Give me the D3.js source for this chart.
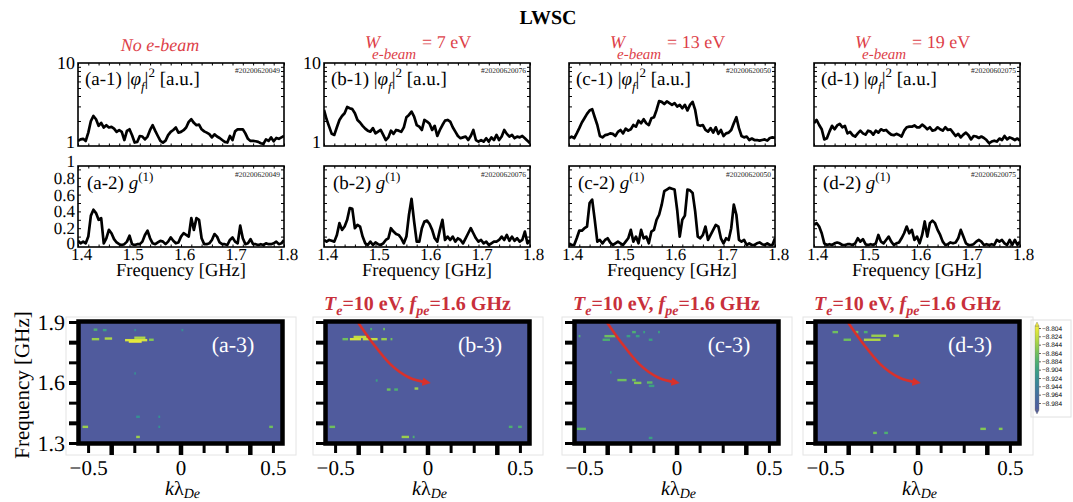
<!DOCTYPE html>
<html><head><meta charset="utf-8">
<script src="https://cdn.jsdelivr.net/npm/d3@7"></script>
<style>
body{margin:0;background:#fff}
svg{display:block;font-family:"Liberation Serif","Times New Roman",serif;text-rendering:geometricPrecision}
</style>
</head><body>
<svg id="c" width="1073" height="502"></svg>
<script>
// ---------------- DATA ----------------
const panelIds = ["a", "b", "c", "d"];
const beamEnergies = [null, 7, 13, 19];
const shotNumbersRow1 = ["#20200620049", "#20200620076", "#20200620050", "#20200602075"];
const shotNumbersRow2 = ["#20200620049", "#20200620076", "#20200620050", "#20200620075"];
const freqs = d3.range(81).map(i => 1.4 + i * 0.005);   // sampling grid 1.4..1.8 GHz
const freqTicks = [1.4, 1.5, 1.6, 1.7, 1.8];
const phiTicks = [1, 10];
const gTicks = [0, 0.2, 0.4, 0.6, 0.8, 1];
const kTicks = [-0.5, 0, 0.5];
const kTicksAll = [-0.5, -0.375, -0.25, -0.125, 0, 0.125, 0.25, 0.375, 0.5];
const fTicks3 = [1.3, 1.6, 1.9];
const fTicksAll = [1.3, 1.4, 1.5, 1.6, 1.7, 1.8, 1.9];
const colorLevels = [-8.804, -8.824, -8.844, -8.864, -8.884, -8.904, -8.924, -8.944, -8.964, -8.984];

const phiA = [1.15,1.2,1.22,1.15,1.45,2.0,2.3,2.1,1.75,1.9, 1.67,1.78,1.67,1.7,1.62,1.48,1.55,1.48,1.18,1.52,
  1.59,1.35,1.1,1.12,1.32,1.3,1.2,1.3,1.56,1.78, 1.52,1.32,1.15,1.1,1.16,1.35,1.48,1.56,1.67,1.45,
  1.48,1.55,1.67,1.95,2.1,1.9,1.78,1.81,1.59,1.5, 1.45,1.39,1.27,1.38,1.3,1.25,1.18,1.12,1.1,1.32,
  1.18,1.5,1.59,1.59,1.59,1.42,1.22,1.15,1.15,1.14, 1.12,1.08,1.06,1.2,1.15,1.27,1.14,1.25,1.22,1.27, 1.32];
const phiB = [2.72,2.1,1.71,1.4,1.36,1.68,2.06,2.3,2.48,2.95, 2.85,2.78,2.48,2.06,1.92,1.75,1.62,1.53,1.49,1.64,
  1.42,1.49,1.56,1.36,1.18,1.27,1.53,1.4,1.56,1.53, 1.48,1.68,2.22,2.37,2.6,2.26,1.79,1.71,1.56,2.06,
  1.97,1.85,1.56,1.75,1.32,1.56,1.79,2.02,2.06,1.97, 1.68,1.49,1.32,1.24,1.27,1.3,1.18,1.32,1.56,1.18,
  1.13,1.18,1.13,1.24,1.13,1.27,1.18,1.36,1.18,1.3, 1.56,1.4,1.3,1.36,1.24,1.3,1.27,1.32,1.24,1.16, 1.08];
const phiC = [1.24,1.3,1.24,1.42,1.64,1.92,2.16,2.44,2.68,2.78, 2.22,1.79,1.32,1.27,1.35,1.37,1.42,1.4,1.32,1.48,
  1.56,1.42,1.62,1.53,1.59,1.79,1.71,2.02,1.88,2.1, 1.88,1.79,2.16,2.22,2.72,3.47,3.4,3.2,3.44,3.28,
  3.13,3.28,2.99,3.13,2.85,3.13,2.68,3.13,3.4,2.72, 1.79,1.75,1.79,1.56,1.49,1.64,1.45,1.68,1.4,1.56,
  1.32,1.42,1.45,1.56,1.88,2.22,1.64,1.32,1.27,1.3, 1.18,1.23,1.18,1.18,1.16,1.18,1.2,1.16,1.25,1.27, 1.25];
const phiD = [1.88,2.06,1.79,1.59,1.2,1.24,1.49,1.75,1.59,1.77, 1.85,1.68,1.75,1.42,1.48,1.35,1.3,1.42,1.53,1.42,
  1.37,1.53,1.49,1.37,1.53,1.45,1.59,1.53,1.56,1.45, 1.37,1.35,1.4,1.36,1.3,1.53,1.68,1.71,1.71,1.77,
  1.68,1.68,1.81,1.71,1.59,1.68,1.53,1.56,1.68,1.59, 1.53,1.68,1.56,1.59,1.45,1.32,1.4,1.27,1.37,1.45,
  1.35,1.2,1.32,1.3,1.25,1.3,1.25,1.18,1.08,1.13, 1.16,1.13,1.23,1.18,1.32,1.2,1.27,1.23,1.18,1.23, 1.16];

const gA = [0.05,0.02,0.04,0.02,0.1,0.35,0.42,0.38,0.3,0.32, 0.02,0.08,0.18,0.14,0.07,0.03,0.01,0,0.01,0.04,
  0.11,0.01,0,0.01,0.01,0.04,0.12,0.17,0.08,0.02, 0.01,0.03,0.05,0.04,0.01,0.04,0.09,0.05,0.02,0.03,
  0.1,0.14,0.12,0.1,0.32,0.18,0.32,0.3,0.08,0.01, 0.01,0.02,0.06,0.13,0.1,0.03,0.01,0.01,0,0.06,
  0.09,0.04,0.02,0.23,0.08,0.01,0.02,0.07,0.01,0.01, 0,0.01,0,0.02,0.01,0.01,0.02,0.04,0.01,0.02, 0.06];
const gB = [0.06,0.04,0.06,0.05,0.04,0.12,0.26,0.18,0.22,0.3, 0.44,0.43,0.2,0.24,0.22,0.1,0.02,0,0.04,0,
  0.03,0.01,0,0.02,0.06,0.08,0.2,0.16,0.13,0.12, 0.08,0.02,0.1,0.36,0.55,0.28,0.04,0.04,0.2,0.28,
  0.29,0.25,0.18,0.08,0.04,0.18,0.3,0.06,0.1,0.06, 0.1,0.04,0.08,0.06,0.02,0.08,0.14,0.2,0.14,0.08,
  0.04,0.06,0.02,0.04,0,0.02,0.04,0.04,0.06,0.1, 0.06,0.12,0.05,0.1,0.05,0.08,0.04,0.06,0.16,0.02, 0.06];
const gC = [0.02,0,0,0.08,0.17,0.17,0.2,0.22,0.5,0.54, 0.3,0.04,0.06,0.02,0.06,0.08,0.03,0,0.02,0.04,
  0.02,0,0.04,0.08,0.18,0.04,0.1,0.02,0.18,0.08, 0.1,0.02,0.16,0.18,0.3,0.36,0.48,0.64,0.66,0.68,
  0.67,0.66,0.42,0.1,0.3,0.35,0.66,0.65,0.62,0.4, 0.1,0.08,0.12,0.22,0.06,0.12,0.18,0.24,0.22,0.08,
  0.02,0.08,0.06,0.2,0.48,0.36,0.06,0.04,0.06,0, 0.02,0,0,0.02,0.03,0.01,0,0.02,0,0, 0.08];
const gD = [0.24,0.26,0.22,0.14,0.02,0,0.01,0,0.02,0.03, 0.02,0,0,0.01,0.01,0,0.02,0.08,0.04,0.07,
  0.01,0,0.01,0,0.02,0.12,0.04,0.02,0.06,0.1, 0.04,0,0.02,0.03,0.08,0.14,0.22,0.14,0.18,0.06,
  0.1,0.02,0.12,0.28,0.1,0.26,0.29,0.26,0.18,0.12, 0.04,0,0.01,0.03,0.02,0.03,0.08,0.18,0.1,0.02,
  0,0,0.01,0.04,0.06,0.04,0,0.01,0,0.01, 0,0.06,0.04,0.06,0.02,0,0.06,0,0.06,0, 0.04];

// speckles in the k–f maps: [k start, k end, frequency GHz, log level]
const speckA = [[-0.48,-0.44,1.815,-8.84],[-0.41,-0.37,1.818,-8.83],[-0.30,-0.18,1.81,-8.81],[-0.28,-0.21,1.803,-8.80],
  [-0.25,-0.19,1.822,-8.83],[-0.17,-0.145,1.812,-8.85],[-0.47,-0.45,1.862,-8.88],[-0.42,-0.40,1.86,-8.90],
  [-0.25,-0.24,1.86,-8.92],[0.005,0.015,1.86,-8.92],[-0.53,-0.50,1.38,-8.84],[0.48,0.50,1.38,-8.86],
  [-0.24,-0.22,1.33,-8.84],[-0.25,-0.245,1.645,-8.92],[-0.24,-0.22,1.43,-8.92],[-0.12,-0.11,1.43,-8.92],[-0.12,-0.11,1.38,-8.92]];
const speckB = [[-0.46,-0.43,1.815,-8.86],[-0.42,-0.36,1.815,-8.81],[-0.35,-0.27,1.815,-8.82],[-0.25,-0.22,1.815,-8.84],
  [-0.20,-0.19,1.815,-8.86],[-0.40,-0.33,1.826,-8.82],[-0.31,-0.30,1.865,-8.88],[-0.24,-0.23,1.865,-8.86],
  [-0.22,-0.20,1.565,-8.86],[-0.18,-0.16,1.565,-8.88],[-0.07,-0.05,1.57,-8.84],[-0.28,-0.27,1.61,-8.9],
  [-0.53,-0.50,1.38,-8.86],[0.44,0.46,1.38,-8.88],[0.49,0.51,1.38,-8.88],[-0.14,-0.10,1.33,-8.84],[-0.08,-0.07,1.33,-8.88]];
const speckC = [[-0.53,-0.52,1.83,-8.88],[-0.39,-0.33,1.83,-8.86],[-0.27,-0.25,1.83,-8.9],[-0.22,-0.20,1.83,-8.9],
  [-0.24,-0.22,1.85,-8.88],[-0.18,-0.17,1.85,-8.9],[-0.10,-0.09,1.85,-8.9],[-0.40,-0.36,1.812,-8.88],[-0.15,-0.13,1.812,-8.9],
  [-0.32,-0.27,1.612,-8.86],[-0.24,-0.22,1.612,-8.86],[-0.23,-0.19,1.598,-8.85],[-0.16,-0.13,1.60,-8.87],
  [-0.15,-0.12,1.583,-8.9],[-0.54,-0.49,1.37,-8.87],[-0.15,-0.13,1.325,-8.9],[-0.36,-0.355,1.65,-8.92]];
const speckD = [[-0.46,-0.43,1.85,-8.86],[-0.34,-0.32,1.85,-8.86],[-0.29,-0.27,1.85,-8.88],[-0.25,-0.17,1.832,-8.84],
  [-0.13,-0.10,1.832,-8.84],[-0.40,-0.36,1.812,-8.86],[-0.29,-0.20,1.812,-8.83],[0.34,0.37,1.37,-8.85],
  [0.44,0.46,1.37,-8.85],[-0.24,-0.22,1.35,-8.86],[-0.18,-0.16,1.35,-8.88]];

// Bohm-Gross branch: [k lambda_De, f GHz]
const dispersion = [[-0.40, 1.93], [-0.3, 1.80], [-0.2, 1.69], [-0.1, 1.625], [0, 1.6]];

// ---------------- DRAW ----------------
const phiData = [phiA, phiB, phiC, phiD];
const gData = [gA, gB, gC, gD];
const speckData = [speckA, speckB, speckC, speckD];

const svg = d3.select("#c");
const defs = svg.append("defs");
const SERIF = '"Liberation Serif","Times New Roman",serif';
const RED1 = "#dd3f49", RED2 = "#c8303b", CURVE = "#d8312c";

const cDomain = [-8.994, -8.794];
const cmap = d3.scaleSequential(d3.interpolateRgbBasis(["#505b9d","#4470a2","#2f9593","#4bb36c","#aad544","#f3ee3a"])).domain(cDomain);

defs.append("marker").attr("id","arr").attr("viewBox","0 0 10 10").attr("refX",6).attr("refY",5)
  .attr("markerWidth",3.2).attr("markerHeight",3.2).attr("orient","auto")
  .append("path").attr("d","M0,0 L10,5 L0,10 z").attr("fill",CURVE);

svg.append("text").attr("x",548).attr("y",24).attr("text-anchor","middle")
  .attr("font-weight","bold").attr("font-size",20).text("LWSC");

const topX0 = [78, 324, 569, 814];
const PW = 206;
const R1 = {top: 63, bottom: 146};
const R2 = {top: 166, bottom: 247};
const mapX0 = [77, 324, 573, 814];
const MW = 207, MT = 320, MB = 445;

function styleAxis(g, font) {
  g.select(".domain").remove();
  g.attr("font-family", SERIF);
  if (font) g.attr("font-size", font);
  g.selectAll("text").attr("fill", "#000");
  return g;
}

const minorF = d3.range(1.4, 1.8001, 0.02);
const line = (x, y) => d3.line().x((d, i) => x(freqs[i])).y(d => y(d));

panelIds.forEach((id, p) => {
  const x0 = topX0[p];
  const x = d3.scaleLinear().domain([1.4, 1.8]).range([x0, x0 + PW]);

  // subtitle
  if (beamEnergies[p] === null) {
    svg.append("text").attr("x", x0 + 82).attr("y", 51).attr("text-anchor","middle")
      .attr("font-style","italic").attr("font-size",18).attr("fill",RED1).text("No e-beam");
  } else {
    svg.append("text").attr("x", x0 + 41).attr("y", 48).attr("font-style","italic")
      .attr("font-size",18).attr("fill",RED1).text("W");
    svg.append("text").attr("x", x0 + 48).attr("y", 59).attr("font-style","italic")
      .attr("font-size",15).attr("fill",RED1).text("e-beam");
    svg.append("text").attr("x", x0 + 98).attr("y", 48)
      .attr("font-size",18).attr("fill",RED1).text(`= ${beamEnergies[p]} eV`);
  }

  // ---- row 1 : |phi_f|^2 ----
  const y1 = d3.scaleLog().domain([1, 10]).range([R1.bottom, R1.top]);
  defs.append("clipPath").attr("id","c1"+id).append("rect")
    .attr("x",x0).attr("y",R1.top).attr("width",PW).attr("height",R1.bottom-R1.top);
  const g1 = svg.append("g");
  g1.append("g").attr("transform",`translate(0,${R1.bottom})`)
    .call(d3.axisBottom(x).tickValues(minorF).tickSize(-2.5).tickFormat("")).call(styleAxis);
  g1.append("g").attr("transform",`translate(0,${R1.top})`)
    .call(d3.axisTop(x).tickValues(minorF).tickSize(-2.5).tickFormat("")).call(styleAxis);
  const logMinor = [2,3,4,5,6,7,8,9];
  g1.append("g").attr("transform",`translate(${x0},0)`)
    .call(d3.axisLeft(y1).tickValues(logMinor).tickSize(-3).tickFormat("")).call(styleAxis);
  g1.append("g").attr("transform",`translate(${x0+PW},0)`)
    .call(d3.axisRight(y1).tickValues(logMinor).tickSize(-3).tickFormat("")).call(styleAxis);
  if (p < 2) {
    const a = g1.append("g").attr("transform",`translate(${x0-1},0)`)
      .call(d3.axisLeft(y1).tickValues(phiTicks).tickSize(0).tickPadding(2).tickFormat(d3.format("d")))
      .call(g => styleAxis(g, 18));
    a.selectAll("text").attr("dy", d => d === 1 ? "0.1em" : "0.32em");
  }
  g1.append("path").datum(phiData[p]).attr("d", line(x, y1)).attr("fill","none")
    .attr("stroke","#000").attr("stroke-width",2.7).attr("stroke-linejoin","round")
    .attr("clip-path",`url(#c1${id})`);
  g1.append("rect").attr("x",x0).attr("y",R1.top).attr("width",PW).attr("height",R1.bottom-R1.top)
    .attr("fill","none").attr("stroke","#000").attr("stroke-width",1.6);
  const t1 = g1.append("text").attr("x",x0+7).attr("y",R1.top+22).attr("font-size",19);
  t1.append("tspan").text(`(${id}-1) |`);
  t1.append("tspan").attr("font-style","italic").text("φ");
  t1.append("tspan").attr("font-style","italic").attr("font-size",13).attr("dy",6).text("f");
  t1.append("tspan").attr("dy",-6).text("|");
  t1.append("tspan").attr("font-size",13).attr("dy",-8).text("2");
  t1.append("tspan").attr("dy",8).text(" [a.u.]");
  g1.append("text").attr("x",x0+PW-4).attr("y",R1.top+10).attr("text-anchor","end")
    .attr("font-size",7.5).attr("fill","#222").text(shotNumbersRow1[p]);

  // ---- row 2 : g(1) ----
  const y2 = d3.scaleLinear().domain([0, 1]).range([245, 161]);
  defs.append("clipPath").attr("id","c2"+id).append("rect")
    .attr("x",x0).attr("y",R2.top).attr("width",PW).attr("height",R2.bottom-R2.top);
  const g2 = svg.append("g");
  g2.append("g").attr("transform",`translate(0,${R2.bottom})`)
    .call(d3.axisBottom(x).tickValues(minorF).tickSize(-2.5).tickFormat("")).call(styleAxis);
  g2.append("g").attr("transform",`translate(0,${R2.top})`)
    .call(d3.axisTop(x).tickValues(minorF).tickSize(-2.5).tickFormat("")).call(styleAxis);
  const gMinor = [0.1,0.2,0.3,0.4,0.5,0.6,0.7,0.8,0.9];
  g2.append("g").attr("transform",`translate(${x0},0)`)
    .call(d3.axisLeft(y2).tickValues(gMinor).tickSize(-3).tickFormat("")).call(styleAxis);
  g2.append("g").attr("transform",`translate(${x0+PW},0)`)
    .call(d3.axisRight(y2).tickValues(gMinor).tickSize(-3).tickFormat("")).call(styleAxis);
  if (p === 0) {
    const a = g2.append("g").attr("transform",`translate(${x0},0)`)
      .call(d3.axisLeft(y2).tickValues(gTicks).tickSize(0).tickPadding(3).tickFormat(d => d3.format("")(d)))
      .call(g => styleAxis(g, 17));
    a.selectAll("text").attr("dy", d => d === 0 ? "0.2em" : "0.32em");
  }
  g2.append("g").attr("transform",`translate(3,${R2.bottom})`)
    .call(d3.axisBottom(x).tickValues(freqTicks).tickSize(0).tickPadding(1).tickFormat(d3.format(".1f")))
    .call(g => styleAxis(g, 17));
  g2.append("text").attr("x",x0+PW/2).attr("y",276).attr("text-anchor","middle")
    .attr("font-size",18.5).text("Frequency [GHz]");
  g2.append("path").datum(gData[p]).attr("d", line(x, y2)).attr("fill","none")
    .attr("stroke","#000").attr("stroke-width",2.7).attr("stroke-linejoin","round")
    .attr("clip-path",`url(#c2${id})`);
  g2.append("rect").attr("x",x0).attr("y",R2.top).attr("width",PW).attr("height",R2.bottom-R2.top)
    .attr("fill","none").attr("stroke","#000").attr("stroke-width",1.6);
  const t2 = g2.append("text").attr("x",x0+9).attr("y",R2.top+23).attr("font-size",19);
  t2.append("tspan").text(`(${id}-2) `);
  t2.append("tspan").attr("font-style","italic").text("g");
  t2.append("tspan").attr("font-size",13).attr("dy",-8).text("(1)");
  g2.append("text").attr("x",x0+PW-4).attr("y",R2.top+11).attr("text-anchor","end")
    .attr("font-size",7.5).attr("fill","#222").text(shotNumbersRow2[p]);

  // ---- row 3 : k-f map ----
  const m0 = mapX0[p];
  const x3 = d3.scaleLinear().domain([-0.56, 0.56]).range([m0, m0 + MW]);
  const y3 = d3.scaleLinear().domain([1.29, 1.91]).range([MB, MT]);
  const g3 = svg.append("g");
  g3.append("rect").attr("x",m0-11).attr("y",317).attr("width",MW+23).attr("height",138)
    .attr("fill","none").attr("stroke","#e4e4e4").attr("stroke-width",1);
  defs.append("clipPath").attr("id","c3"+id).append("rect")
    .attr("x",m0).attr("y",MT).attr("width",MW).attr("height",MB-MT);
  g3.append("rect").attr("x",m0).attr("y",MT).attr("width",MW).attr("height",MB-MT).attr("fill",cmap(cDomain[0]));
  const sp = g3.append("g").attr("clip-path",`url(#c3${id})`);
  sp.selectAll("rect").data(speckData[p]).join("rect")
    .attr("x", d => x3(d[0])).attr("width", d => Math.max(1.6, x3(d[1]) - x3(d[0])))
    .attr("y", d => y3(d[2]) - 1.2).attr("height", 2.4).attr("fill", d => cmap(d[3]));
  const majK = new Set([-0.375, 0, 0.375]);
  const ax = g3.append("g").attr("transform",`translate(0,${MB})`)
    .call(d3.axisBottom(x3).tickValues(kTicksAll).tickSize(8).tickFormat("")).call(styleAxis);
  ax.selectAll(".tick line").attr("stroke-width", d => majK.has(d) ? 4.5 : 3)
    .attr("y2", d => majK.has(d) ? 10 : 8);
  const majF = new Set([1.4, 1.6, 1.8]);
  const ay = g3.append("g").attr("transform",`translate(${m0},0)`)
    .call(d3.axisLeft(y3).tickValues(fTicksAll).tickSize(8).tickFormat("")).call(styleAxis);
  ay.selectAll(".tick line").attr("stroke-width", d => majF.has(d) ? 4 : 3);
  g3.append("g").attr("transform",`translate(0,${MB})`)
    .call(d3.axisBottom(x3).tickValues(kTicks).tickSize(0).tickPadding(15)
      .tickFormat(d => d === 0 ? "0" : d3.format(".1f")(d)))
    .call(g => styleAxis(g, 21));
  if (p === 0) {
    g3.append("g").attr("transform",`translate(${m0},0)`)
      .call(d3.axisLeft(y3).tickValues(fTicks3).tickSize(0).tickPadding(12).tickFormat(d3.format(".1f")))
      .call(g => styleAxis(g, 22));
    g3.append("text").attr("transform",`translate(29,385) rotate(-90)`).attr("text-anchor","middle")
      .attr("font-size",21).text("Frequency [GHz]");
  } else {
    g3.append("path").datum(dispersion)
      .attr("d", d3.line().curve(d3.curveMonotoneX).x(d => x3(d[0])).y(d => y3(d[1])))
      .attr("fill","none").attr("stroke",CURVE).attr("stroke-width",2.6)
      .attr("clip-path",`url(#c3${id})`).attr("marker-end","url(#arr)");
    const h = svg.append("text").attr("x",m0).attr("y",310).attr("fill",RED2)
      .attr("font-weight","bold").attr("font-size",20);
    h.append("tspan").attr("font-style","italic").text("T");
    h.append("tspan").attr("font-style","italic").attr("font-size",14).attr("dy",5).text("e");
    h.append("tspan").attr("dy",-5).text("=10 eV, ");
    h.append("tspan").attr("font-style","italic").text("f");
    h.append("tspan").attr("font-style","italic").attr("font-size",14).attr("dy",5).text("pe");
    h.append("tspan").attr("dy",-5).text("=1.6 GHz");
  }
  g3.append("rect").attr("x",m0+1.5).attr("y",MT+1.5).attr("width",MW-3).attr("height",MB-MT-3)
    .attr("fill","none").attr("stroke","#000").attr("stroke-width",4.5);
  g3.append("text").attr("x",m0+MW-51).attr("y",352).attr("text-anchor","middle")
    .attr("font-size",22).attr("fill","#fff").text(`(${id}-3)`);
  const kl = g3.append("text").attr("x",m0+MW/2+2).attr("y",495).attr("text-anchor","middle").attr("font-size",20);
  kl.append("tspan").attr("font-style","italic").text("k");
  kl.append("tspan").text("λ");
  kl.append("tspan").attr("font-style","italic").attr("font-size",14).attr("dy",3).text("De");
});

// ---- colorbar ----
const grad = defs.append("linearGradient").attr("id","cbg").attr("x1",0).attr("y1",1).attr("x2",0).attr("y2",0);
d3.range(0, 1.0001, 0.1).forEach(t => grad.append("stop").attr("offset", t)
  .attr("stop-color", cmap(cDomain[0] + t * (cDomain[1] - cDomain[0]))));
const cb = svg.append("g");
cb.append("rect").attr("x",1031).attr("y",320).attr("width",40).attr("height",97)
  .attr("fill","none").attr("stroke","#e0e0e0");
const cbY = d3.scaleLinear().domain([-8.984, -8.804]).range([403, 328]);
cb.append("rect").attr("x",1035).attr("y",326).attr("width",4).attr("height",84).attr("fill","url(#cbg)")
  .attr("stroke","#777").attr("stroke-width",0.4);
cb.append("path").attr("d","M1035,326 L1037,322 L1039,326 Z").attr("fill",cmap(cDomain[1])).attr("stroke","#777").attr("stroke-width",0.4);
cb.append("path").attr("d","M1035,410 L1037,414 L1039,410 Z").attr("fill",cmap(cDomain[0])).attr("stroke","#777").attr("stroke-width",0.4);
cb.append("g").attr("transform","translate(1039,0)")
  .call(d3.axisRight(cbY).tickValues(colorLevels).tickSize(2).tickPadding(1).tickFormat(d3.format(".3f")))
  .call(g => { g.select(".domain").remove(); g.attr("font-size",6.5).attr("font-family","'Liberation Sans',sans-serif"); g.selectAll("line").attr("stroke-width",0.6); });
</script>
</body></html>
